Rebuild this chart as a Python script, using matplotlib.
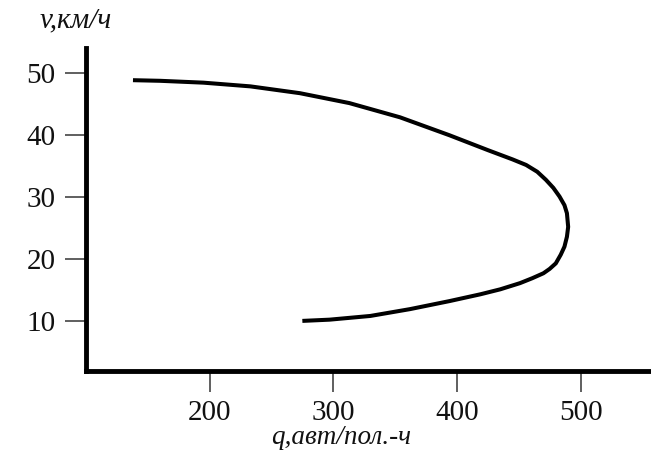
import matplotlib
matplotlib.use("Agg")
import matplotlib.pyplot as plt

# Speed–flow relationship: flow q (veh/lane-hour) against speed v (km/h)
flow = [138, 160, 195, 233, 273, 313, 354, 394, 425, 445, 456, 465, 472,
        478, 483, 487, 489, 490, 489, 487, 484, 480, 475, 470, 461, 451,
        435, 419, 394, 362, 330, 297, 275]
speed = [48.9, 48.8, 48.5, 47.9, 46.8, 45.2, 42.9, 40.0, 37.6, 36.1, 35.2,
         34.1, 32.8, 31.5, 30.1, 28.7, 27.4, 25.2, 23.6, 22.0, 20.7, 19.3,
         18.4, 17.7, 16.9, 16.1, 15.1, 14.3, 13.2, 11.9, 10.8, 10.2, 10.0]

x_ticks = [200, 300, 400, 500]
y_ticks = [10, 20, 30, 40, 50]
x_label = "q,авт/пол.-ч"
y_label = "v,км/ч"

plt.rcParams["font.family"] = ["Liberation Serif", "DejaVu Serif"]

fig = plt.figure(figsize=(6.51, 4.73), dpi=100)
ax = fig.add_axes([0.1321, 0.2156, 0.8679, 0.6829])

ax.plot(flow, speed, color="black", lw=2.9, solid_capstyle="butt",
        solid_joinstyle="round")

ax.set_xlim(100, 557)
ax.set_ylim(1.9, 54.1)
ax.set_xticks(x_ticks)
ax.set_yticks(y_ticks)

for side in ("top", "right"):
    ax.spines[side].set_visible(False)
for side in ("left", "bottom"):
    ax.spines[side].set_linewidth(3.5)
    ax.spines[side].set_color("black")

ax.tick_params(axis="both", direction="out", length=15, width=1.2,
               color="#444444", labelsize=21, labelcolor="#111111")
ax.tick_params(axis="y", pad=7)
ax.tick_params(axis="x", pad=6)

fig.text(0.117, 0.957, y_label, fontsize=21, style="italic",
         ha="center", va="center", color="#111111")
fig.text(0.524, 0.074, x_label, fontsize=19.5, style="italic",
         ha="center", va="center", color="#111111")

fig.savefig("out.png", dpi=100, facecolor="white")
